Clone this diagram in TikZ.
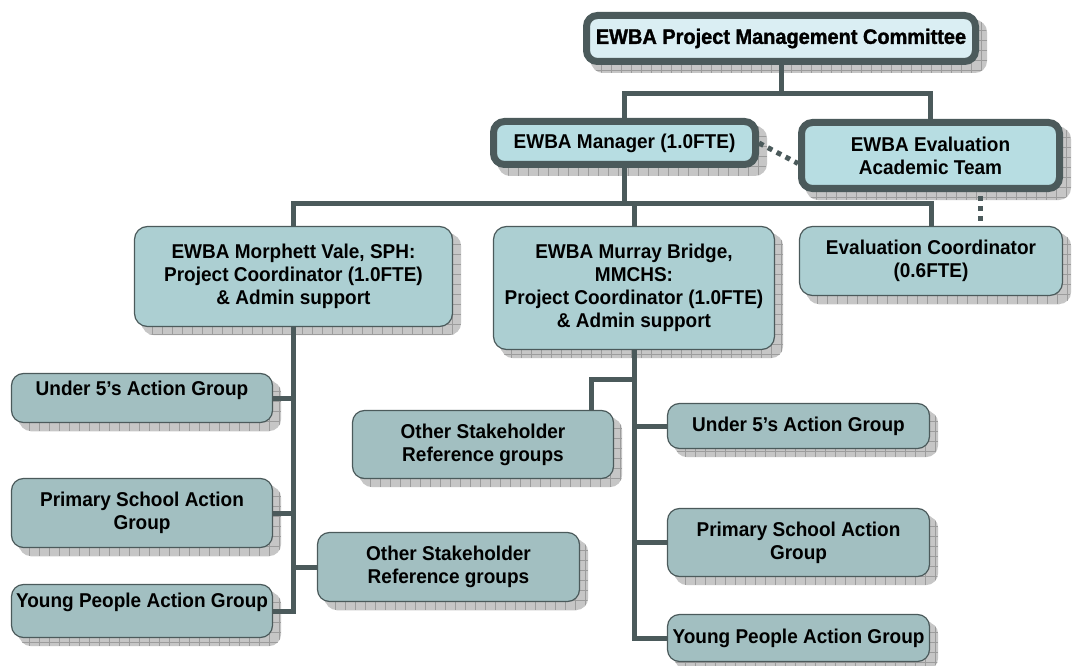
\documentclass[tikz,border=0pt]{standalone}
\usepackage{fontspec}
\setmainfont{Liberation Sans}[FakeStretch=0.95]
\newfontfamily\headfont{Liberation Sans}[FakeStretch=0.95,BoldFeatures={FakeBold=1.5}]
\usetikzlibrary{backgrounds}

\definecolor{edge}{HTML}{4B5A5B}
\definecolor{paleblue}{HTML}{DAEEF3}
\definecolor{midblue}{HTML}{B7DDE2}
\definecolor{unitblue}{HTML}{ACCFD2}
\definecolor{groupblue}{HTML}{A2BFC1}
\definecolor{shadowgrey}{HTML}{C6C6C6}
\definecolor{shadowline}{HTML}{9C9C9C}

\tikzset{
	orgbox/.style={rectangle, draw=edge, text=black, align=center, inner sep=2pt,
		font=\bfseries\fontsize{20}{23}\selectfont},
	leadbox/.style={orgbox, line width=7pt, rounded corners=11pt, fill=midblue},
	unitbox/.style={orgbox, line width=1.2pt, rounded corners=13pt, fill=unitblue},
	groupbox/.style={orgbox, line width=1.2pt, rounded corners=12pt, fill=groupblue},
	topset/.style={text height=15pt, text depth=#1},
	link/.style={draw=edge, line width=5pt},
	dotlink/.style={link, dash pattern=on 5pt off 5pt},
	boxshadow/.style={fill=shadowgrey, rounded corners=12pt, path picture={
		\foreach \k in {0,10,...,420}{
			\draw[shadowline, line width=.6pt] ([xshift=\k pt]path picture bounding box.north west) -- ([xshift=\k pt]path picture bounding box.south west);
			\draw[shadowline, line width=.6pt] ([yshift=-\k pt]path picture bounding box.north west) -- ([yshift=-\k pt]path picture bounding box.north east);
		}}}
}

\begin{document}
\begin{tikzpicture}[x=1pt, y=-1pt]
	\useasboundingbox (0,0) rectangle (1074,666);

	% committee, manager and evaluation team
	\node[leadbox, fill=paleblue, minimum width=389, minimum height=46,
		font=\headfont\bfseries\fontsize{21}{25}\selectfont] (top) at (781,38.5) {EWBA Project Management Committee};
	\node[leadbox, minimum width=262, minimum height=43] (mgr) at (624.5,143) {EWBA Manager (1.0FTE)};
	\node[leadbox, minimum width=258, minimum height=66] (acad) at (930.5,155.5) {EWBA Evaluation\\Academic Team};

	% sites
	\node[unitbox, minimum width=318, minimum height=100] (mv) at (293.5,276.5) {EWBA Morphett Vale, SPH:\\Project Coordinator (1.0FTE)\\\& Admin support};
	\node[unitbox, minimum width=281, minimum height=123] (mb) at (634,288) {EWBA Murray Bridge,\\MMCHS:\\Project Coordinator (1.0FTE)\\\& Admin support};
	\node[unitbox, minimum width=263, minimum height=69] (ec) at (931,261) {Evaluation Coordinator\\(0.6FTE)};

	% Morphett Vale groups
	\node[groupbox, minimum width=261, minimum height=49, topset=21pt] (u5l) at (142,398) {Under 5’s Action Group};
	\node[groupbox, minimum width=261, minimum height=69] (psl) at (142,513) {Primary School Action\\Group};
	\node[groupbox, minimum width=261, minimum height=53, topset=23pt] (ypl) at (142,611) {Young People Action Group};
	\node[groupbox, minimum width=262, minimum height=69] (osl) at (448.5,567) {Other Stakeholder\\Reference groups};

	% Murray Bridge groups
	\node[groupbox, minimum width=261, minimum height=68] (osr) at (483,444.5) {Other Stakeholder\\Reference groups};
	\node[groupbox, minimum width=262, minimum height=45] (u5r) at (798.5,426) {Under 5’s Action Group};
	\node[groupbox, minimum width=262, minimum height=68] (psr) at (798.5,542.5) {Primary School Action\\Group};
	\node[groupbox, minimum width=262, minimum height=47] (ypr) at (798.5,638) {Young People Action Group};

	\begin{scope}[on background layer]
		\fill[white] (0,0) rectangle (1074,666);
		\foreach \n in {top,mgr,acad,mv,mb,ec,u5l,psl,ypl,osl,osr,u5r,psr,ypr}
			\fill[boxshadow] ([shift={(8,8)}]\n.north west) rectangle ([shift={(8,8)}]\n.south east);
	\end{scope}

	\coordinate (j1) at (781,94);
	\coordinate (j2) at (0,203);
	\coordinate (j3) at (0,379);

	\draw[link] (top.south) -- (j1);
	\draw[link] (mgr.north) |- (j1) -| (acad.north);
	\draw[dotlink] (mgr.east) -- ([yshift=-8pt]acad.west);
	\draw[dotlink] ([xshift=49.5pt,yshift=-4pt]acad.south) -- ([xshift=49pt]ec.north);

	\draw[link] (mgr.south) -- (mgr.south |- j2);
	\draw[link] (mv.north) |- (ec.north |- j2) -- (ec.north);
	\draw[link] (mb.north) -- (mb.north |- j2);

	\draw[link] (mv.south) -- (mv.south |- ypl.east) -- (ypl.east);
	\draw[link] (u5l.east) -- (u5l.east -| mv.south);
	\draw[link] (psl.east) -- (psl.east -| mv.south);
	\draw[link] (osl.west) -- (osl.west -| mv.south);

	\draw[link] (mb.south) -- (mb.south |- ypr.west) -- (ypr.west);
	\draw[link] ([xshift=-23pt]osr.north east) |- (mb.south |- j3);
	\draw[link] (u5r.west) -- (u5r.west -| mb.south);
	\draw[link] (psr.west) -- (psr.west -| mb.south);
\end{tikzpicture}
\end{document}
